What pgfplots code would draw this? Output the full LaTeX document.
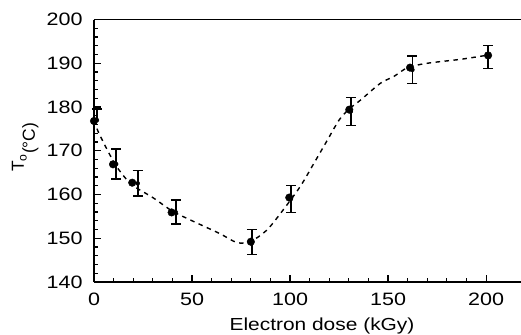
\documentclass[border=0pt]{standalone}
\usepackage{fontspec}
\setmainfont{Liberation Sans}
\newfontfamily\widefont{Liberation Sans}[FakeStretch=1.2]
\usepackage{pgfplots}
\pgfplotsset{compat=1.18}
\begin{document}
\begin{tikzpicture}
\begin{axis}[
  scale only axis, width=427bp, height=262.5bp,
  xmin=0, xmax=217.8, ymin=140, ymax=200,
  axis x line*=box, axis y line*=left,
  x axis line style={-}, y axis line style={-},
  axis line style={line width=1.4bp},
  xtick pos=bottom, ytick pos=left,
  tick align=inside,
  xtick={0,50,100,150,200}, ytick={140,150,...,200},
  minor x tick num=4, minor y tick num=4,
  major tick length=7bp, minor tick length=4bp,
  every tick/.style={black, line width=1.2bp},
  /pgf/number format/assume math mode=true,
  tick label style={font=\widefont\fontsize{18}{20}\selectfont},
  xticklabel shift=7bp, yticklabel shift=8bp,
  xlabel={Electron dose (kGy)},
  xlabel style={font=\widefont\fontsize{17.5}{20}\selectfont, at={(axis description cs:0.534,0)}, anchor=base, yshift=-48bp},
  ylabel={T\textsubscript{o}\raisebox{-11bp}{(°C)}},
  ylabel style={font=\fontsize{17.5}{20}\selectfont, at={(axis description cs:-0.164,0.513)}, anchor=base},
  clip=false,
]
% dashed guide curve
\addplot[black, line width=1.4bp, dash pattern=on 4.5bp off 4.5bp, smooth, tension=0.5] coordinates {
 (0,177) (2.5,174) (10,167.5) (15,164.3) (20,162) (30,159.3) (40,156.2) (50,154)
 (64,151.1) (73,149) (80,149.3) (88,151.8) (95,155.6) (105,161.7) (112,167)
 (119,172.4) (125,177) (130,179.5) (136,181.6) (146,185.4) (153,187) (160,189)
 (170,190) (187,190.9) (200,191.8)
};
% upper error bar at zero dose (lower part hidden by the marker)
\addplot[black, only marks, mark=none,
  error bars/.cd, y dir=plus, y explicit,
  error bar style={line width=1.6bp, black},
  error mark options={rotate=90, mark size=5bp, line width=1.6bp, black}] coordinates {
 (1.5,177) +- (0,2.5)
};
% error bars
\addplot[black, only marks, mark=none,
  error bars/.cd, y dir=both, y explicit,
  error bar style={line width=1.6bp, black},
  error mark options={rotate=90, mark size=5bp, line width=1.6bp, black}] coordinates {
 (11.3,166.95) +- (0,3.45)
 (22.3,162.55) +- (0,2.95)
 (41.7,155.95) +- (0,2.75)
 (80.5,149.15) +- (0,2.85)
 (100.5,159.0) +- (0,3.1)
 (131,179.0) +- (0,3.2)
 (162.4,188.5) +- (0,3.1)
 (201,191.45) +- (0,2.65)
};
% data points
\addplot[black, only marks, mark=*, mark size=3.8bp] coordinates {
 (0,176.8) (9.7,166.9) (19.5,162.7) (39.6,155.9) (80,149.2)
 (99.6,159.3) (130.2,179.4) (161.2,189.0) (201,191.8)
};
\end{axis}
\pgfresetboundingbox
\path (current axis.south west) ++(-94bp,-53bp) coordinate (bbA);
\path (current axis.north east) ++(0,19.5bp) coordinate (bbB);
\useasboundingbox (bbA) rectangle (bbB);
\end{tikzpicture}
\end{document}
